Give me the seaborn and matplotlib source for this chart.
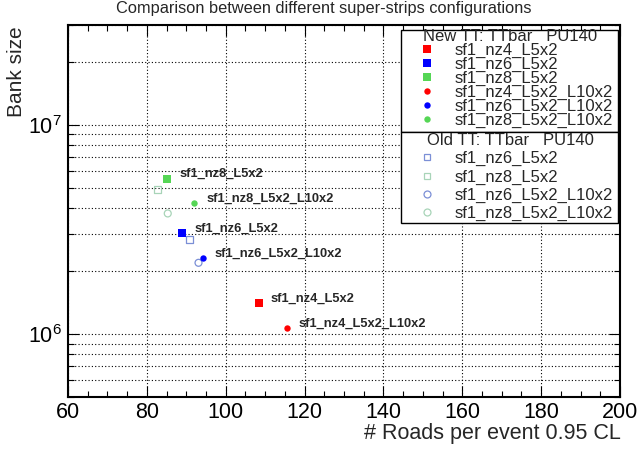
import matplotlib
matplotlib.use("Agg")
import matplotlib.pyplot as plt
import seaborn as sns
import pandas as pd
from matplotlib.ticker import LogLocator, MultipleLocator, NullFormatter
from matplotlib.lines import Line2D
from matplotlib.patches import Rectangle

# ---- data ----
new_labels = ["sf1_nz4_L5x2", "sf1_nz6_L5x2", "sf1_nz8_L5x2",
              "sf1_nz4_L5x2_L10x2", "sf1_nz6_L5x2_L10x2", "sf1_nz8_L5x2_L10x2"]
new_roads = [108.4, 89.0, 85.2, 115.5, 94.2, 92.0]
new_bank = [1.41e6, 3.03e6, 5.53e6, 1.07e6, 2.31e6, 4.22e6]
new_markers = ["s", "s", "s", "o", "o", "o"]
new_colors = ["#ff0000", "#0000ff", "#55d655", "#ff0000", "#0000ff", "#55d655"]

old_labels = ["sf1_nz6_L5x2", "sf1_nz8_L5x2", "sf1_nz6_L5x2_L10x2", "sf1_nz8_L5x2_L10x2"]
old_roads = [90.8, 82.7, 93.1, 85.3]
old_bank = [2.84e6, 4.92e6, 2.19e6, 3.77e6]
old_markers = ["s", "s", "o", "o"]
old_colors = ["#7b8fd6", "#a8d4b8", "#7b8fd6", "#a8d4b8"]

title = "Comparison between different super-strips configurations"
xlabel = "# Roads per event 0.95 CL"
ylabel = "Bank size"
new_title = "New TT: TTbar   PU140"
old_title = "Old TT: TTbar   PU140"

sns.set_theme(style="ticks")
plt.rcParams["font.family"] = ["Liberation Sans", "DejaVu Sans"]
plt.rcParams["mathtext.fontset"] = "custom"
plt.rcParams["mathtext.rm"] = "Liberation Sans"
plt.rcParams["mathtext.it"] = "Liberation Sans"

W, H = 643, 454
fig = plt.figure(figsize=(W / 100, H / 100), dpi=100)
ax = fig.add_axes([68 / W, 1 - 397 / H, (620 - 68) / W, (397 - 25) / H])

df_new = pd.DataFrame({"roads": new_roads, "bank": new_bank, "label": new_labels})
df_old = pd.DataFrame({"roads": old_roads, "bank": old_bank, "label": old_labels})

new_handles = []
for i, row in df_new.iterrows():
    ms = 5.2 if new_markers[i] == "s" else 4.6
    sns.scatterplot(x=[row.roads], y=[row.bank], ax=ax, marker=new_markers[i],
                    color=new_colors[i], s=ms ** 2, linewidth=0, zorder=4)
    new_handles.append(Line2D([], [], linestyle="none", marker=new_markers[i],
                              color=new_colors[i], markersize=ms, markeredgewidth=0))
    ax.annotate(row.label, (row.roads, row.bank), xytext=(8.6, 3.2),
                textcoords="offset points", ha="left", va="center",
                fontsize=9.3, fontweight="bold", zorder=5)

old_handles = []
for i, row in df_old.iterrows():
    sns.scatterplot(x=[row.roads], y=[row.bank], ax=ax, marker=old_markers[i],
                    facecolor="none", edgecolor=old_colors[i], s=5.0 ** 2,
                    linewidth=0.9, zorder=3)
    old_handles.append(Line2D([], [], linestyle="none", marker=old_markers[i],
                              markerfacecolor="none", markeredgecolor=old_colors[i],
                              markersize=5.0, markeredgewidth=0.9))

ax.set_yscale("log")
ax.set_xlim(60, 200)
ax.set_ylim(5e5, 3e7)
ax.xaxis.set_major_locator(MultipleLocator(20))
ax.xaxis.set_minor_locator(MultipleLocator(5))
ax.yaxis.set_major_locator(LogLocator(base=10, numticks=10))
ax.yaxis.set_minor_locator(LogLocator(base=10, subs=range(2, 10), numticks=20))
ax.yaxis.set_minor_formatter(NullFormatter())

ax.grid(True, which="major", axis="both", color="black", linestyle=(0, (1, 2)), linewidth=0.8)
ax.grid(True, which="minor", axis="y", color="black", linestyle=(0, (1, 2)), linewidth=0.8)

ax.tick_params(which="both", direction="in", top=True, right=True, colors="black",
               labelsize=15.5)
ax.tick_params(axis="x", pad=3.5)
ax.tick_params(axis="y", pad=4.5)
ax.tick_params(which="major", length=8, width=0.8)
ax.tick_params(which="minor", length=4, width=0.8)
for sp in ax.spines.values():
    sp.set_color("black")
    sp.set_linewidth(1.5)

fig.text(621 / W, 1 - 434 / H, xlabel, ha="right", va="center", fontsize=15.5)
fig.text(17 / W, 1 - 26.5 / H, ylabel, ha="center", va="top", rotation=90, fontsize=15)
fig.text(324 / W, 1 - 9 / H, title, ha="center", va="center", fontsize=11.8)

# legend boxes
for (y0, y1) in [(30, 132), (132, 223)]:
    ax.add_patch(Rectangle((401 / W, 1 - y1 / H), 217 / W, (y1 - y0) / H,
                           transform=fig.transFigure, facecolor="white",
                           edgecolor="black", linewidth=1.0, zorder=9, clip_on=False))

leg_kw = dict(fontsize=12, title_fontsize=12, frameon=False,
              borderpad=0.0, handletextpad=0.2,
              handlelength=2.9, borderaxespad=0, mode="expand")
leg1 = ax.legend(new_handles, new_labels, title=new_title, loc="upper left",
                 bbox_to_anchor=(403 / W, 1 - 29 / H, 215 / W, 0.0),
                 bbox_transform=fig.transFigure, labelspacing=-0.07, **leg_kw)
leg1.set_zorder(10)
ax.add_artist(leg1)
leg2 = ax.legend(old_handles, old_labels, title=old_title, loc="upper left",
                 bbox_to_anchor=(403 / W, 1 - 133 / H, 215 / W, 0.0),
                 bbox_transform=fig.transFigure, labelspacing=0.19, **leg_kw)
leg2.set_zorder(10)

fig.savefig("out.png", dpi=100)
